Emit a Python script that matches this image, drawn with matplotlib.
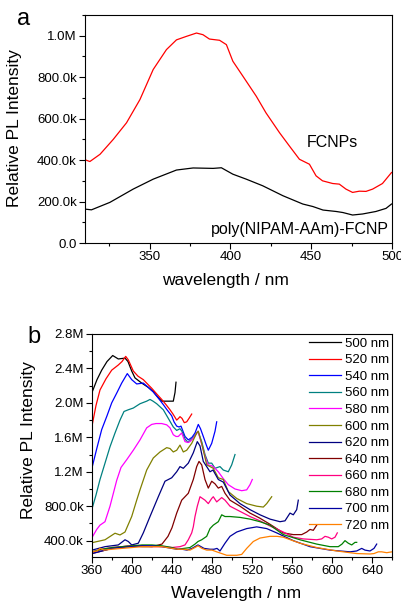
import numpy as np
import matplotlib
matplotlib.use("Agg")
import matplotlib.pyplot as plt
from matplotlib.ticker import MultipleLocator, FuncFormatter

plt.rcParams["font.family"] = ["Liberation Sans", "DejaVu Sans"]

# ---------------- panel a data (intensity in M counts) ---------------- #
wl_fcnp = [310.6, 313, 319.3, 327.5, 335.7, 344, 352.2, 360.4, 366.6, 372.8, 379, 383, 387, 393.3, 397.5,
           401.5, 407.7, 416, 422, 430.4, 436.5, 442.7, 448.9, 453, 457, 463.3, 467.4, 471.5, 475.6, 479.8,
           483.9, 488, 494.1, 499.7]
int_fcnp = [0.400, 0.393, 0.428, 0.50, 0.58, 0.692, 0.837, 0.933, 0.98, 0.997, 1.013, 1.005, 0.984, 0.978,
            0.957, 0.877, 0.805, 0.708, 0.628, 0.532, 0.468, 0.404, 0.38, 0.324, 0.30, 0.287, 0.284, 0.26,
            0.244, 0.25, 0.249, 0.26, 0.287, 0.34]

wl_poly = [310.6, 314, 325.4, 339.8, 352.2, 366.6, 376.9, 389.3, 394.4, 401.5, 409.8, 420, 432.5, 444.8,
           451, 457.3, 465.5, 469.6, 475.6, 481.8, 490, 496.3, 499.7]
int_poly = [0.163, 0.160, 0.196, 0.26, 0.308, 0.352, 0.362, 0.36, 0.363, 0.332, 0.308, 0.276, 0.228, 0.188,
            0.176, 0.159, 0.152, 0.147, 0.135, 0.14, 0.152, 0.167, 0.188]

# ---------------- panel b data (intensity in M counts) ---------------- #
exc_labels = ["500 nm", "520 nm", "540 nm", "560 nm", "580 nm", "600 nm",
              "620 nm", "640 nm", "660 nm", "680 nm", "700 nm", "720 nm"]

wl_500 = [360.3, 365, 369.7, 375, 380.7, 386.3, 393, 396, 399.7, 403, 409.7, 416.3, 421.3, 426.3, 429.7,
          436.3, 441.3, 443, 444]
int_500 = [2.13, 2.27, 2.38, 2.48, 2.55, 2.51, 2.52, 2.48, 2.37, 2.29, 2.23, 2.18, 2.13, 2.06, 2.02,
           2.02, 2.02, 2.12, 2.24]

wl_520 = [360.3, 364, 368, 374, 379.7, 386.3, 390, 393.7, 396.3, 401.3, 406, 411.3, 416.3, 419.7, 425,
          429.7, 434, 438, 441, 444.7, 446.5, 448, 450, 452.3, 454.7, 457, 459.7]
int_520 = [1.75, 1.97, 2.15, 2.28, 2.38, 2.44, 2.48, 2.54, 2.50, 2.37, 2.31, 2.27, 2.21, 2.17, 2.10,
           2.04, 1.98, 1.92, 1.87, 1.80, 1.82, 1.84, 1.82, 1.77, 1.78, 1.82, 1.87]

wl_540 = [360.3, 365, 369.7, 375, 379.7, 385, 389.7, 395.3, 399.7, 404.7, 411.3, 416.3, 421, 426, 431.3,
          435, 439.7, 442, 444.7, 447, 449, 451, 453, 456.3, 460, 463, 466.3, 468.5, 471.3, 474, 476.3,
          479.7, 483, 484.7]
int_540 = [1.26, 1.48, 1.69, 1.85, 2.00, 2.12, 2.23, 2.34, 2.27, 2.22, 2.23, 2.18, 2.13, 2.06, 1.98,
           1.92, 1.85, 1.78, 1.73, 1.72, 1.73, 1.67, 1.61, 1.57, 1.60, 1.65, 1.75, 1.70, 1.61, 1.52, 1.45,
           1.53, 1.67, 1.78]

wl_560 = [359.7, 364, 368, 373, 378, 383, 388, 392, 396.3, 401.3, 408, 414.7, 418, 421, 424.7, 431.3,
          436.3, 441.3, 444.7, 448, 450, 453, 456, 461.3, 466, 469.7, 473, 476.3, 479.7, 483, 488, 491.3,
          496.3, 499.7, 503]
int_560 = [0.757, 0.93, 1.11, 1.30, 1.49, 1.65, 1.80, 1.90, 1.92, 1.94, 1.99, 2.02, 2.04, 2.02, 1.99, 1.92,
           1.82, 1.72, 1.68, 1.70, 1.67, 1.58, 1.54, 1.60, 1.67, 1.55, 1.40, 1.30, 1.30, 1.24, 1.26, 1.22,
           1.20, 1.28, 1.40]

wl_580 = [359.7, 364.7, 368, 373, 378, 384.7, 389, 394.7, 401.3, 408, 414.7, 419.7, 424, 429.7, 434.7,
          438, 441.3, 444, 446.3, 449.7, 453, 456, 458, 462, 466, 469.7, 473, 476, 479.7, 483, 486.3,
          491.3, 496.3, 503, 509.7, 514.7, 518, 520.3]
int_580 = [0.43, 0.53, 0.58, 0.62, 0.80, 1.10, 1.25, 1.34, 1.45, 1.57, 1.71, 1.75, 1.76, 1.76, 1.745,
           1.71, 1.63, 1.61, 1.61, 1.65, 1.55, 1.54, 1.55, 1.60, 1.67, 1.52, 1.38, 1.28, 1.27, 1.24, 1.20,
           1.12, 1.05, 1.00, 0.98, 0.99, 1.05, 1.11]

wl_600 = [360.3, 373, 383, 388, 393, 399.7, 404.7, 408, 414.7, 421.3, 428, 434.7, 438, 441.3, 444.7, 448,
          451.3, 454.7, 459.7, 464.7, 466.3, 469.7, 474.7, 478, 481.3, 486.3, 491.3, 496.3, 504.7, 514.7,
          524.7, 531.3, 534.7, 539.7]
int_600 = [0.377, 0.41, 0.486, 0.466, 0.50, 0.68, 0.87, 0.99, 1.22, 1.36, 1.43, 1.48, 1.47, 1.43, 1.45,
           1.51, 1.43, 1.45, 1.53, 1.65, 1.67, 1.53, 1.28, 1.26, 1.24, 1.13, 1.11, 0.97, 0.89, 0.83, 0.80,
           0.79, 0.83, 0.91]

wl_620 = [360, 373, 386.3, 393, 396.3, 399.7, 406.3, 411.3, 418, 426.3, 433, 439.7, 444.7, 448, 451.3,
          456.3, 461.3, 465.3, 468, 471.3, 474.7, 478, 481, 486.3, 491.3, 498, 508, 518, 528, 538, 548, 553,
          558, 561.3, 564.7, 566.3]
int_620 = [0.29, 0.33, 0.35, 0.41, 0.39, 0.35, 0.37, 0.49, 0.68, 0.91, 1.09, 1.13, 1.20, 1.26, 1.24,
           1.30, 1.42, 1.55, 1.50, 1.32, 1.26, 1.20, 1.22, 1.11, 1.08, 0.93, 0.83, 0.76, 0.70, 0.65, 0.62,
           0.63, 0.72, 0.70, 0.76, 0.87]

wl_640 = [360, 370, 380, 390, 400, 410, 420, 430, 436, 440, 444.7, 449.7, 456.3, 461.3, 464.7, 467, 469.7,
          473, 476.3, 479.7, 483, 486.3, 489.7, 493, 498, 508, 518, 528, 538, 551.3, 561.3, 569.7, 574.7,
          578, 581.3, 584.7]
int_640 = [0.25, 0.28, 0.31, 0.33, 0.34, 0.33, 0.33, 0.36, 0.45, 0.55, 0.72, 0.87, 0.95, 1.11, 1.26, 1.32,
           1.28, 1.11, 1.01, 1.09, 1.06, 1.01, 1.03, 0.95, 0.87, 0.80, 0.72, 0.66, 0.59, 0.49, 0.47, 0.47,
           0.50, 0.53, 0.52, 0.58]

wl_660 = [360, 370, 380, 390, 400, 410, 420, 430, 440, 448, 453, 456.3, 459.7, 461.3, 463, 465.3, 468, 473,
          476.3, 479.7, 481.3, 484.7, 489.7, 493, 498, 508, 518, 528, 538, 551.3, 561.3, 571.3, 584.7, 589.7,
          593, 596.3, 599.7, 603, 605.3]
int_660 = [0.27, 0.30, 0.32, 0.33, 0.34, 0.34, 0.33, 0.33, 0.32, 0.33, 0.35, 0.41, 0.49, 0.56, 0.68, 0.80,
           0.91, 0.87, 0.83, 0.89, 0.91, 0.85, 0.90, 0.87, 0.80, 0.74, 0.68, 0.63, 0.57, 0.50, 0.44, 0.42,
           0.41, 0.42, 0.45, 0.44, 0.42, 0.44, 0.49]

wl_680 = [360, 370, 380, 390, 400, 410, 420, 430, 440, 446, 452, 458, 463, 466, 469.7, 474.7, 478, 481.3,
          486.3, 489.7, 493, 498, 508, 518, 528, 538, 551.3, 568, 584.7, 598, 606.3, 610, 613, 616.3, 619.7,
          623, 624.7]
int_680 = [0.27, 0.30, 0.32, 0.33, 0.34, 0.35, 0.35, 0.34, 0.32, 0.30, 0.31, 0.32, 0.36, 0.39, 0.41, 0.45,
           0.54, 0.58, 0.62, 0.70, 0.68, 0.68, 0.67, 0.65, 0.62, 0.58, 0.47, 0.41, 0.36, 0.33, 0.33, 0.36,
           0.40, 0.37, 0.35, 0.38, 0.38]

wl_700 = [360, 370, 380, 390, 400, 410, 420, 430, 440, 445, 450, 455, 460, 466, 472, 478, 482, 485, 488,
          493, 498, 504.7, 514.7, 524.7, 534.7, 544.7, 561.3, 578, 598, 618, 624.7, 629.7, 633, 638, 642,
          644.7]
int_700 = [0.25, 0.28, 0.31, 0.32, 0.33, 0.34, 0.34, 0.33, 0.31, 0.30, 0.30, 0.29, 0.31, 0.35, 0.31, 0.30,
           0.30, 0.31, 0.28, 0.37, 0.45, 0.50, 0.54, 0.56, 0.54, 0.49, 0.40, 0.33, 0.29, 0.27, 0.28, 0.31,
           0.29, 0.28, 0.31, 0.36]

wl_720 = [360, 365, 368, 372, 380, 390, 400, 410, 420, 430, 440, 446, 452, 458, 463, 466, 470, 474.7, 480,
          484.7, 494.7, 504.7, 509.7, 514.7, 521.3, 528, 538, 545, 551.3, 568, 584.7, 604.7, 624.7, 638,
          642, 646.3, 649.7, 654.7, 660]
int_720 = [0.27, 0.28, 0.31, 0.29, 0.30, 0.31, 0.32, 0.33, 0.33, 0.33, 0.31, 0.30, 0.30, 0.29, 0.32, 0.34,
           0.31, 0.29, 0.29, 0.27, 0.23, 0.23, 0.24, 0.31, 0.39, 0.43, 0.45, 0.45, 0.44, 0.37, 0.32, 0.28,
           0.25, 0.245, 0.25, 0.27, 0.27, 0.26, 0.27]

wl_b = [wl_500, wl_520, wl_540, wl_560, wl_580, wl_600, wl_620, wl_640, wl_660, wl_680, wl_700, wl_720]
int_b = [int_500, int_520, int_540, int_560, int_580, int_600, int_620, int_640, int_660, int_680,
         int_700, int_720]
colors_b = ["#000000", "#FF0000", "#0000FF", "#008080", "#FF00FF", "#808000",
            "#000080", "#800000", "#FF0080", "#008000", "#0000A0", "#FF8000"]


def eng_fmt(v, pos):
    # Origin style engineering labels: 0.0, 200.0k, 1.0M
    if abs(v) < 1:
        return "0.0"
    if abs(v) >= 1e6 - 1:
        return "%.1fM" % (v / 1e6)
    return "%.1fk" % (v / 1e3)


def style_axis(ax, fs):
    for s in ["top", "bottom", "left", "right"]:
        ax.spines[s].set_linewidth(0.8)
    ax.tick_params(which="both", direction="out", top=False, right=False, labelsize=fs, pad=2)
    ax.tick_params(which="major", length=4, width=0.8)
    ax.tick_params(which="minor", length=2.5, width=0.8)
    ax.yaxis.set_major_formatter(FuncFormatter(eng_fmt))


W, H = 402, 604
fig = plt.figure(figsize=(W / 100, H / 100), dpi=100)

# ---------------- panel a ---------------- #
ax1 = fig.add_axes([85 / W, 1 - 243 / H, (392 - 85) / W, (243 - 15) / H])
ax1.plot(wl_fcnp, np.array(int_fcnp) * 1e6, color="#FF0000", lw=0.9)
ax1.plot(wl_poly, np.array(int_poly) * 1e6, color="#000000", lw=0.9)
ax1.set_xlim(310, 500)
ax1.set_ylim(0, 1.1e6)
ax1.xaxis.set_major_locator(MultipleLocator(50))
ax1.xaxis.set_minor_locator(MultipleLocator(25))
ax1.yaxis.set_major_locator(MultipleLocator(2e5))
ax1.yaxis.set_minor_locator(MultipleLocator(1e5))
style_axis(ax1, 9.5)
ax1.set_xlabel("wavelength / nm", fontsize=12.5)
ax1.set_ylabel("Relative PL Intensity", fontsize=12.5)
ax1.xaxis.set_label_coords(0.456, -0.132)
ax1.yaxis.set_label_coords(-0.206, 0.504)
ax1.text(463, 0.486e6, "FCNPs", fontsize=11.5, ha="center", va="center")
ax1.text(498.3, 0.064e6, "poly(NIPAM-AAm)-FCNP", fontsize=11.5, ha="right", va="center")
fig.text(17 / W, 1 - 25 / H, "a", fontsize=17, ha="left", va="baseline")

# ---------------- panel b ---------------- #
ax2 = fig.add_axes([92 / W, 1 - 557 / H, (392 - 92) / W, (557 - 334) / H])
for k in range(len(wl_b)):
    ax2.plot(wl_b[k], np.array(int_b[k]) * 1e6, color=colors_b[k], lw=0.9, label=exc_labels[k])
ax2.set_xlim(360, 660)
ax2.set_ylim(0.21e6, 2.8e6)
ax2.xaxis.set_major_locator(MultipleLocator(40))
ax2.xaxis.set_minor_locator(MultipleLocator(20))
ax2.yaxis.set_major_locator(MultipleLocator(4e5))
ax2.yaxis.set_minor_locator(MultipleLocator(2e5))
style_axis(ax2, 9.5)
ax2.set_xlabel("Wavelength / nm", fontsize=12.5)
ax2.set_ylabel("Relative PL Intensity", fontsize=12.5)
ax2.xaxis.set_label_coords(0.479, -0.13)
ax2.yaxis.set_label_coords(-0.187, 0.525)
ax2.legend(loc="upper left", bbox_to_anchor=(0.723, 0.985), frameon=False, fontsize=9.5,
           handlelength=2.45, handletextpad=0.25, labelspacing=0.33, borderpad=0, borderaxespad=0)
fig.text(27 / W, 1 - 343 / H, "b", fontsize=17, ha="left", va="baseline")

fig.savefig("out.png", dpi=100)
